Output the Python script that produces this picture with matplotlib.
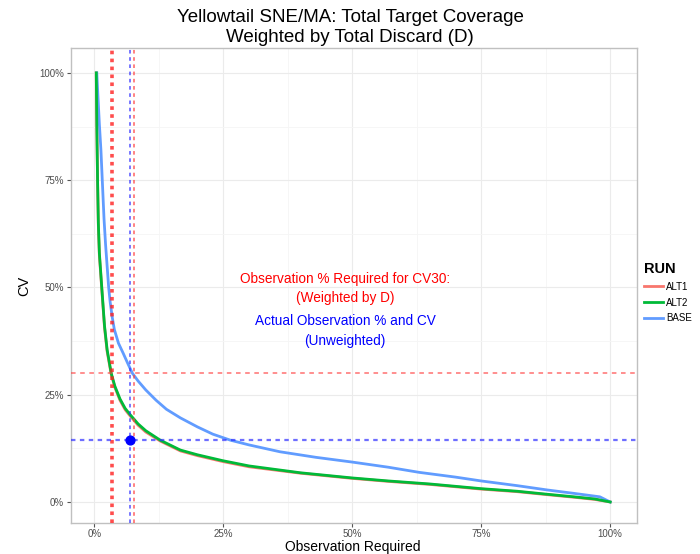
import matplotlib
matplotlib.use("Agg")
import matplotlib.pyplot as plt
from matplotlib.lines import Line2D
from matplotlib.ticker import FixedLocator, PercentFormatter

plt.rcParams['font.family'] = ['Liberation Sans', 'DejaVu Sans']

# Curves (observation %, CV %)
base_obs = [0.5, 0.7, 1.0, 1.3, 1.6, 1.9, 2.2, 2.5, 2.8, 3.1, 3.5, 3.9, 4.7,
            5.6, 6.5, 7.4, 8.5, 10, 12, 14, 16.7, 20, 23, 26.4, 30, 36, 43, 50,
            57, 63, 70, 75, 82, 87.8, 93, 98, 100]
base_cv = [100, 95, 88, 82, 74, 66, 60, 55, 50, 46.5, 43, 40.2, 37, 34.7,
           32.3, 30, 28.2, 26.1, 23.7, 21.6, 19.6, 17.5, 15.8, 14.4, 13.3,
           11.7, 10.4, 9.3, 8.1, 6.9, 5.8, 4.9, 3.8, 2.8, 2.0, 1.2, 0]

alt2_obs = [0.4, 0.5, 0.65, 0.8, 1.0, 1.5, 2.0, 2.5, 3.3, 4.0, 5.0, 6.0, 7.0,
            8.5, 10, 12.8, 16.7, 20, 25, 30, 40, 50, 57, 65, 75, 82, 87.8, 93,
            97, 100]
alt2_cv = [100, 88, 75, 65, 58, 49.4, 41, 35.5, 30, 27, 24, 21.8, 20.3, 18.2,
           16.6, 14.4, 12.1, 11.0, 9.6, 8.4, 6.8, 5.6, 4.9, 4.2, 3.1, 2.5, 1.8,
           1.2, 0.7, 0]

alt1_obs = [0.4, 0.5, 0.65, 0.8, 1.0, 1.5, 2.0, 2.5, 3.3, 4.0, 5.0, 6.0, 7.0,
            8.5, 10, 12.8, 16.7, 20, 25, 30, 40, 50, 57, 65, 75, 82, 87.8, 93,
            97, 100]
alt1_cv = [100, 87.5, 74.5, 64.5, 57.5, 49.0, 40.6, 35.1, 29.7, 26.7, 23.7,
           21.5, 20.0, 17.9, 16.3, 14.2, 11.9, 10.8, 9.4, 8.2, 6.7, 5.5, 4.8,
           4.1, 3.0, 2.4, 1.7, 1.1, 0.6, 0]

runs = ['ALT1', 'ALT2', 'BASE']
run_colors = ['#F8766D', '#00BA38', '#619CFF']

# reference lines
cv30_obs_alt = 3.4      # red dotted, weighted CV30
cv30_obs_base = 7.8     # red dashed
cv30_level = 30
actual_obs = 7.0
actual_cv = 14.4

fig = plt.figure(figsize=(7, 5.54), dpi=100)
ax = fig.add_axes([71 / 700, 31 / 554, 566 / 700, 475 / 554])

grid_major = '#ebebeb'
grid_minor = '#f5f5f5'
ax.set_xlim(-4.5, 105.2)
ax.set_ylim(-4.9, 105.8)
ax.xaxis.set_major_locator(FixedLocator([0, 25, 50, 75, 100]))
ax.yaxis.set_major_locator(FixedLocator([0, 25, 50, 75, 100]))
ax.xaxis.set_minor_locator(FixedLocator([12.5, 37.5, 62.5, 87.5]))
ax.yaxis.set_minor_locator(FixedLocator([12.5, 37.5, 62.5, 87.5]))
ax.xaxis.set_major_formatter(PercentFormatter(decimals=0))
ax.yaxis.set_major_formatter(PercentFormatter(decimals=0))
ax.grid(True, which='major', color=grid_major, lw=0.8)
ax.grid(True, which='minor', color=grid_minor, lw=0.6)
ax.set_axisbelow(True)
ax.tick_params(which='minor', length=0)
ax.tick_params(which='major', length=3, color='#555555', labelsize=7,
               labelcolor='#4d4d4d', pad=2)
ax.tick_params(axis='x', pad=1)
for s in ax.spines.values():
    s.set_color('#c0c0c0')
    s.set_linewidth(1)

# curves
ax.plot(alt1_obs, alt1_cv, color=run_colors[0], lw=2.0, zorder=3)
ax.plot(alt2_obs, alt2_cv, color=run_colors[1], lw=2.0, zorder=4)
ax.plot(base_obs, base_cv, color=run_colors[2], lw=2.0, zorder=3)

# reference lines
ax.axvline(cv30_obs_alt, color='#ff2020', lw=2.6, ls=(0, (1, 1.2)), alpha=0.8, zorder=5)
ax.axvline(actual_obs, color='#3030ff', lw=1.3, ls=(0, (2, 2)), alpha=0.7, zorder=5)
ax.axvline(cv30_obs_base, color='#ff4040', lw=1.3, ls=(0, (2, 2)), alpha=0.7, zorder=5)
ax.axhline(cv30_level, color='#ff4040', lw=1.1, ls=(0, (3, 3)), alpha=0.75, zorder=5)
ax.axhline(actual_cv, color='#3030ff', lw=1.6, ls=(0, (2, 2)), alpha=0.7, zorder=5)
ax.scatter([actual_obs], [actual_cv], s=40, color='blue', zorder=6)

# annotations
ax.text(48.6, 52, 'Observation % Required for CV30:', color='red', fontsize=9.8,
        ha='center', va='center')
ax.text(48.6, 47.5, '(Weighted by D)', color='red', fontsize=9.8,
        ha='center', va='center')
ax.text(48.6, 42.2, 'Actual Observation % and CV', color='blue', fontsize=9.8,
        ha='center', va='center')
ax.text(48.6, 37.5, '(Unweighted)', color='blue', fontsize=9.8,
        ha='center', va='center')

fig.text(353 / 700, 1 - 547 / 554, 'Observation Required', fontsize=10,
         ha='center', va='center')
ax.set_ylabel('CV', fontsize=10.5, labelpad=6)
fig.text(350 / 700, 1 - 18 / 554, 'Yellowtail SNE/MA: Total Target Coverage',
         fontsize=13.5, ha='center', va='center')
fig.text(350 / 700, 1 - 37 / 554, 'Weighted by Total Discard (D)',
         fontsize=13.5, ha='center', va='center')

# legend
handles = [Line2D([], [], color=c, lw=2) for c in run_colors]
leg = fig.legend(handles, runs, title='RUN', loc='upper left',
                 bbox_to_anchor=(640 / 700, 1 - 258 / 554), frameon=False,
                 fontsize=7, handlelength=2.0, handletextpad=0.3,
                 labelspacing=0.6, borderaxespad=0)
leg.get_title().set_fontweight('bold')
leg.get_title().set_fontsize(10.5)
leg._legend_box.align = 'left'

fig.savefig('out.png', dpi=100)
